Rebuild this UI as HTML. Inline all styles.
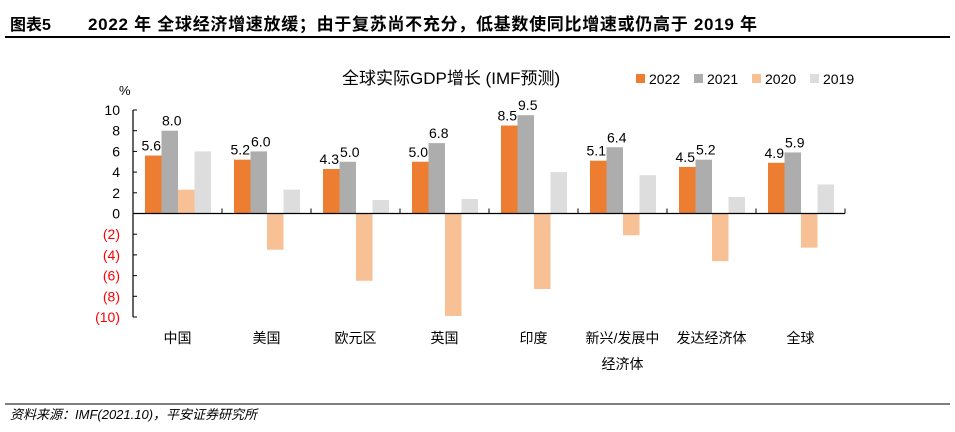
<!DOCTYPE html>
<html><head><meta charset="utf-8"><style>
body{margin:0;background:#fff;font-family:"Liberation Sans","Noto Sans CJK SC",sans-serif;}
#wrap{position:relative;width:955px;height:432px;overflow:hidden}
</style></head><body>
<div id="wrap">
<svg id="svg" width="955" height="432" xmlns="http://www.w3.org/2000/svg" style="position:absolute;left:0;top:0">
<text x="10" y="30" font-size="16" font-weight="bold" font-family="Liberation Sans,Noto Sans CJK SC,sans-serif">图表5</text>
<text x="88" y="30" font-size="17" font-weight="bold" textLength="669" lengthAdjust="spacing" font-family="Liberation Sans,Noto Sans CJK SC,sans-serif">2022 年 全球经济增速放缓；由于复苏尚不充分，低基数使同比增速或仍高于 2019 年</text>
<line x1="5" y1="37" x2="950" y2="37" stroke="#000" stroke-width="2"/>
<text x="342" y="84" font-size="17" font-family="Liberation Sans,Noto Sans CJK SC,sans-serif">全球实际GDP增长 (IMF预测)</text>
<text x="119" y="95" font-size="13">%</text>
<g id="legend"></g>
<g id="plot"></g>
<line x1="5" y1="404" x2="950" y2="404" stroke="#000" stroke-width="1"/>
<text x="10" y="419" font-size="13" font-style="italic" font-family="Liberation Sans,Noto Sans CJK SC,sans-serif">资料来源：IMF(2021.10)，平安证券研究所</text>
</svg>
</div>
<script>
const categories=["中国","美国","欧元区","英国","印度","新兴/发展中|经济体","发达经济体","全球"];
const series=["2022","2021","2020","2019"];
const v2022=[5.6,5.2,4.3,5.0,8.5,5.1,4.5,4.9];
const v2021=[8.0,6.0,5.0,6.8,9.5,6.4,5.2,5.9];
const v2020=[2.3,-3.5,-6.5,-9.9,-7.3,-2.1,-4.6,-3.3];
const v2019=[6.0,2.3,1.3,1.4,4.0,3.7,1.6,2.8];
const yTicks=[10,8,6,4,2,0,-2,-4,-6,-8,-10];
const yTickLabels=["10","8","6","4","2","0","(2)","(4)","(6)","(8)","(10)"];
const colors=["#ED7D31","#ADADAD","#F8C095","#DDDDDD"];
const NS="http://www.w3.org/2000/svg";
const X0=133,GW=89,Y0=213.5,K=10.35;
const y=v=>Y0-v*K;
const gx=i=>X0+i*GW;
const plot=document.getElementById('plot');
function mk(tag,attrs,parent){const e=document.createElementNS(NS,tag);for(const k in attrs)e.setAttribute(k,attrs[k]);(parent||plot).appendChild(e);return e;}
const all=[v2022,v2021,v2020,v2019];
const bw=16.5;
categories.forEach((c,i)=>{
  all.forEach((arr,s)=>{
    const v=arr[i];const bx=gx(i)+12+s*bw;
    const r=mk('rect',{x:bx,y:Math.min(y(v),Y0),width:bw,height:Math.abs(y(v)-Y0),fill:colors[s]});
    
    
    if(s<2){
      const t=mk('text',{x:bx+bw/2+(s==0?-2:2),y:y(v)-5,'font-size':14,'text-anchor':'middle'});
      t.textContent=v.toFixed(1);
      
      
    }
  });
  const parts=c.split('|');
  parts.forEach((p,j)=>{
    const t=mk('text',{x:gx(i)+GW/2,y:343+j*26,'font-size':14,'text-anchor':'middle','font-family':'Liberation Sans,Noto Sans CJK SC,sans-serif'});
    t.textContent=p;
    
    
  });
  const tk=mk('line',{x1:gx(i+1),x2:gx(i+1),y1:Y0,y2:Y0-5,stroke:'#000'});
  
  
});
const xa=mk('line',{x1:X0,x2:gx(categories.length),y1:Y0,y2:Y0,stroke:'#000','stroke-width':1.2});


const ya=mk('line',{x1:X0,x2:X0,y1:y(10),y2:y(-10),stroke:'#000','stroke-width':1.2});


yTicks.forEach((v,i)=>{
  const l=mk('line',{x1:X0,x2:X0+4,y1:y(v),y2:y(v),stroke:'#000'});
  
  
  const t=mk('text',{x:120,y:y(v)+5,'font-size':14,'text-anchor':'end',fill:v<0?'#FF0000':'#000'});
  t.textContent=yTickLabels[i];
  
  
});
const lg=document.getElementById('legend');
series.forEach((s,i)=>{
  const lx=636+i*58;
  const r=mk('rect',{x:lx,y:74,width:9,height:9,fill:colors[i]},lg);
  
  
  const t=mk('text',{x:lx+13,y:84,'font-size':14},lg);
  t.textContent=s;
  
  
});
</script>
</body></html>
